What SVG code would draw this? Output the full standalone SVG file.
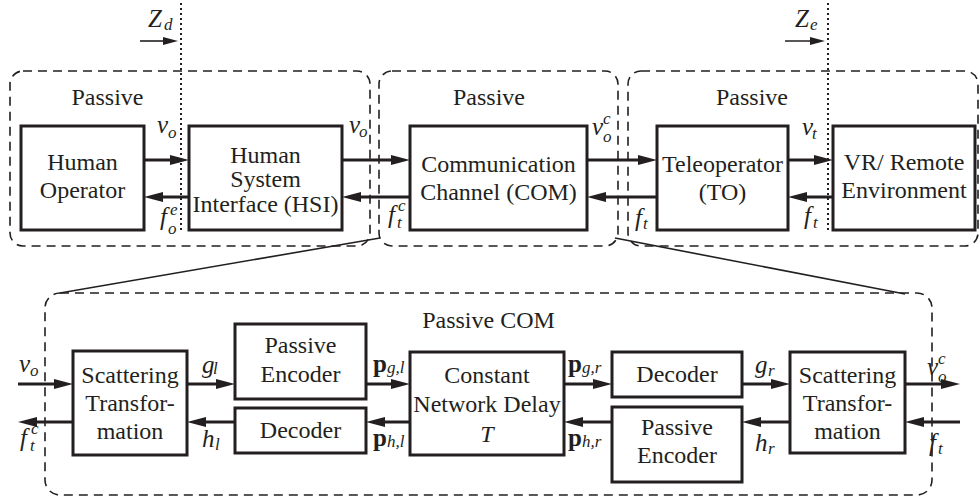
<svg xmlns="http://www.w3.org/2000/svg" width="980" height="502" viewBox="0 0 980 502">
<defs>
<marker id="ah" markerUnits="userSpaceOnUse" markerWidth="20" markerHeight="12" viewBox="0 0 20 12" refX="11" refY="6" orient="auto">
<path d="M0,1 L19,6 L0,11 z" fill="#231f20"/>
</marker>
<marker id="ahs" markerUnits="userSpaceOnUse" markerWidth="16" markerHeight="10" viewBox="0 0 16 10" refX="9" refY="5" orient="auto">
<path d="M0,1 L15,5 L0,9 z" fill="#231f20"/>
</marker>
</defs>
<rect x="0" y="0" width="980" height="502" fill="#fff"/>

<g id="regions">
<g fill="none" stroke="#231f20" stroke-width="1.6" stroke-dasharray="9 6">
<rect x="10" y="71" width="360" height="175" rx="13"/>
<rect x="379" y="71" width="239" height="175" rx="13"/>
<rect x="628" y="71" width="350" height="175" rx="13"/>
<rect x="45" y="293" width="887" height="202" rx="15"/>
</g>
<text font-family="Liberation Serif" font-size="24" text-anchor="middle" fill="#231f20" x="107.5" y="105">Passive</text>
<text font-family="Liberation Serif" font-size="24" text-anchor="middle" fill="#231f20" x="489" y="105">Passive</text>
<text font-family="Liberation Serif" font-size="24" text-anchor="middle" fill="#231f20" x="752" y="105">Passive</text>
<text font-family="Liberation Serif" font-size="24" text-anchor="middle" fill="#231f20" x="488.5" y="328">Passive COM</text>
</g>

<g id="ports">
<line x1="181" y1="3" x2="181" y2="232" fill="none" stroke="#231f20" stroke-width="2" stroke-dasharray="2 3"/>
<line x1="828" y1="3" x2="828" y2="232" fill="none" stroke="#231f20" stroke-width="2" stroke-dasharray="2 3"/>
<line x1="140" y1="41" x2="172" y2="41" stroke="#231f20" stroke-width="1.6" marker-end="url(#ahs)"/>
<line x1="785" y1="41" x2="819" y2="41" stroke="#231f20" stroke-width="1.6" marker-end="url(#ahs)"/>
<text font-family="Liberation Serif" font-size="25" font-style="italic" fill="#231f20" x="148" y="27">Z<tspan font-family="Liberation Serif" font-size="17" x="164" y="30">d</tspan></text>
<text font-family="Liberation Serif" font-size="25" font-style="italic" fill="#231f20" x="795" y="27">Z<tspan font-family="Liberation Serif" font-size="17" x="810" y="30">e</tspan></text>
</g>

<g id="connectors" fill="none" stroke="#231f20">
<line x1="380" y1="238" x2="60" y2="293" stroke-width="1.6"/>
<line x1="615" y1="238" x2="905" y2="294" stroke-width="1.6"/>
<g stroke-width="3" marker-end="url(#ah)">
<line x1="144" y1="160" x2="181" y2="160" marker-end="url(#ah)"/>
<line x1="189" y1="197" x2="152" y2="197" marker-end="url(#ah)"/>
<line x1="342" y1="160" x2="402" y2="160" marker-end="url(#ah)"/>
<line x1="410" y1="197" x2="350" y2="197" marker-end="url(#ah)"/>
<line x1="587" y1="160" x2="649" y2="160" marker-end="url(#ah)"/>
<line x1="657" y1="197" x2="595" y2="197" marker-end="url(#ah)"/>
<line x1="788" y1="160" x2="825" y2="160" marker-end="url(#ah)"/>
<line x1="833" y1="197" x2="796" y2="197" marker-end="url(#ah)"/>
<line x1="18" y1="384" x2="65" y2="384" marker-end="url(#ah)"/>
<line x1="73" y1="422" x2="26" y2="422" marker-end="url(#ah)"/>
<line x1="187" y1="384" x2="227" y2="384" marker-end="url(#ah)"/>
<line x1="235" y1="422" x2="195" y2="422" marker-end="url(#ah)"/>
<line x1="366" y1="384" x2="402" y2="384" marker-end="url(#ah)"/>
<line x1="410" y1="422" x2="374" y2="422" marker-end="url(#ah)"/>
<line x1="564" y1="384" x2="604" y2="384" marker-end="url(#ah)"/>
<line x1="612" y1="422" x2="572" y2="422" marker-end="url(#ah)"/>
<line x1="742" y1="384" x2="782" y2="384" marker-end="url(#ah)"/>
<line x1="790" y1="422" x2="750" y2="422" marker-end="url(#ah)"/>
<line x1="905" y1="384" x2="952" y2="384" marker-end="url(#ah)"/>
<line x1="960" y1="422" x2="913" y2="422" marker-end="url(#ah)"/>
</g>
</g>

<g id="labels" fill="#231f20">
<text font-family="Liberation Serif" font-size="25" font-style="italic" x="157" y="133">v<tspan font-family="Liberation Serif" font-size="17" x="168" y="138">o</tspan></text>
<text font-family="Liberation Serif" font-size="25" font-style="italic" x="160" y="225">f<tspan font-family="Liberation Serif" font-size="17" x="170" y="215">e</tspan><tspan font-family="Liberation Serif" font-size="17" x="168" y="234">o</tspan></text>
<text font-family="Liberation Serif" font-size="25" font-style="italic" x="349" y="133">v<tspan font-family="Liberation Serif" font-size="17" x="359" y="137">o</tspan></text>
<text font-family="Liberation Serif" font-size="25" font-style="italic" x="388" y="223">f<tspan font-family="Liberation Serif" font-size="17" x="398" y="211">c</tspan><tspan font-family="Liberation Serif" font-size="17" x="397" y="228">t</tspan></text>
<text font-family="Liberation Serif" font-size="25" font-style="italic" x="592" y="135">v<tspan font-family="Liberation Serif" font-size="17" x="603" y="124">c</tspan><tspan font-family="Liberation Serif" font-size="17" x="603" y="142">o</tspan></text>
<text font-family="Liberation Serif" font-size="25" font-style="italic" x="635" y="226">f<tspan font-family="Liberation Serif" font-size="17" x="643" y="229">t</tspan></text>
<text font-family="Liberation Serif" font-size="25" font-style="italic" x="802" y="135">v<tspan font-family="Liberation Serif" font-size="17" x="812" y="139">t</tspan></text>
<text font-family="Liberation Serif" font-size="25" font-style="italic" x="804" y="224">f<tspan font-family="Liberation Serif" font-size="17" x="813" y="228">t</tspan></text>

<text font-family="Liberation Serif" font-size="25" font-style="italic" x="19" y="372">v<tspan font-family="Liberation Serif" font-size="17" x="30" y="376">o</tspan></text>
<text font-family="Liberation Serif" font-size="25" font-style="italic" x="20" y="446">f<tspan font-family="Liberation Serif" font-size="17" x="31" y="434">c</tspan><tspan font-family="Liberation Serif" font-size="17" x="30" y="451">t</tspan></text>
<text font-family="Liberation Serif" font-size="25" font-style="italic" x="202" y="373">g<tspan font-family="Liberation Serif" font-size="17" x="213" y="374">l</tspan></text>
<text font-family="Liberation Serif" font-size="25" font-style="italic" x="202" y="447">h<tspan font-family="Liberation Serif" font-size="17" x="215" y="450">l</tspan></text>
<text font-family="Liberation Serif" font-size="25" font-weight="bold" x="373" y="372">p<tspan font-family="Liberation Serif" font-size="17" font-weight="normal" font-style="italic" x="387" y="373">g,l</tspan></text>
<text font-family="Liberation Serif" font-size="25" font-weight="bold" x="373" y="446">p<tspan font-family="Liberation Serif" font-size="17" font-weight="normal" font-style="italic" x="387" y="447">h,l</tspan></text>
<text font-family="Liberation Serif" font-size="25" font-weight="bold" x="568" y="372">p<tspan font-family="Liberation Serif" font-size="17" font-weight="normal" font-style="italic" x="582" y="373">g,r</tspan></text>
<text font-family="Liberation Serif" font-size="25" font-weight="bold" x="568" y="446">p<tspan font-family="Liberation Serif" font-size="17" font-weight="normal" font-style="italic" x="582" y="447">h,r</tspan></text>
<text font-family="Liberation Serif" font-size="25" font-style="italic" x="755" y="373">g<tspan font-family="Liberation Serif" font-size="17" x="768" y="376">r</tspan></text>
<text font-family="Liberation Serif" font-size="25" font-style="italic" x="755" y="451">h<tspan font-family="Liberation Serif" font-size="17" x="768" y="454">r</tspan></text>
<text font-family="Liberation Serif" font-size="25" font-style="italic" x="927" y="375">v<tspan font-family="Liberation Serif" font-size="17" x="938" y="364">c</tspan><tspan font-family="Liberation Serif" font-size="17" x="938" y="382">o</tspan></text>
<text font-family="Liberation Serif" font-size="25" font-style="italic" x="929" y="451">f<tspan font-family="Liberation Serif" font-size="17" x="938" y="454">t</tspan></text>
</g>

<g id="human-operator">
<rect x="21" y="126" width="123" height="104" fill="#fff" stroke="#231f20" stroke-width="3"/>
<text font-family="Liberation Serif" font-size="24" text-anchor="middle" fill="#231f20" x="82.5" y="170">Human</text>
<text font-family="Liberation Serif" font-size="24" text-anchor="middle" fill="#231f20" x="82.5" y="198">Operator</text>
</g>
<g id="hsi">
<rect x="189" y="126" width="153" height="104" fill="#fff" stroke="#231f20" stroke-width="3"/>
<text font-family="Liberation Serif" font-size="24" text-anchor="middle" fill="#231f20" x="265.5" y="163">Human</text>
<text font-family="Liberation Serif" font-size="24" text-anchor="middle" fill="#231f20" x="265.5" y="187">System</text>
<text font-family="Liberation Serif" font-size="24" text-anchor="middle" fill="#231f20" x="265.5" y="212">Interface (HSI)</text>
</g>
<g id="com">
<rect x="410" y="126" width="177" height="104" fill="#fff" stroke="#231f20" stroke-width="3"/>
<text font-family="Liberation Serif" font-size="24" text-anchor="middle" fill="#231f20" x="498.5" y="172">Communication</text>
<text font-family="Liberation Serif" font-size="24" text-anchor="middle" fill="#231f20" x="498.5" y="200">Channel (COM)</text>
</g>
<g id="teleoperator">
<rect x="657" y="126" width="131" height="104" fill="#fff" stroke="#231f20" stroke-width="3"/>
<text font-family="Liberation Serif" font-size="24" text-anchor="middle" fill="#231f20" x="722.5" y="172">Teleoperator</text>
<text font-family="Liberation Serif" font-size="24" text-anchor="middle" fill="#231f20" x="722.5" y="200">(TO)</text>
</g>
<g id="vr-environment">
<rect x="833" y="126" width="142" height="104" fill="#fff" stroke="#231f20" stroke-width="3"/>
<text font-family="Liberation Serif" font-size="24" text-anchor="middle" fill="#231f20" x="904" y="170">VR/ Remote</text>
<text font-family="Liberation Serif" font-size="24" text-anchor="middle" fill="#231f20" x="904" y="198">Environment</text>
</g>

<g id="scattering-left">
<rect x="73" y="351" width="114" height="104" fill="#fff" stroke="#231f20" stroke-width="3"/>
<text font-family="Liberation Serif" font-size="24" text-anchor="middle" fill="#231f20" x="130" y="383">Scattering</text>
<text font-family="Liberation Serif" font-size="24" text-anchor="middle" fill="#231f20" x="130" y="411">Transfor-</text>
<text font-family="Liberation Serif" font-size="24" text-anchor="middle" fill="#231f20" x="130" y="439">mation</text>
</g>
<g id="encoder-left">
<rect x="235" y="324" width="131" height="75" fill="#fff" stroke="#231f20" stroke-width="3"/>
<text font-family="Liberation Serif" font-size="24" text-anchor="middle" fill="#231f20" x="300.5" y="353">Passive</text>
<text font-family="Liberation Serif" font-size="24" text-anchor="middle" fill="#231f20" x="300.5" y="382">Encoder</text>
</g>
<g id="decoder-left">
<rect x="235" y="408" width="131" height="45" fill="#fff" stroke="#231f20" stroke-width="3"/>
<text font-family="Liberation Serif" font-size="24" text-anchor="middle" fill="#231f20" x="300.5" y="438">Decoder</text>
</g>
<g id="network-delay">
<rect x="410" y="352" width="154" height="103" fill="#fff" stroke="#231f20" stroke-width="3"/>
<text font-family="Liberation Serif" font-size="24" text-anchor="middle" fill="#231f20" x="487" y="383">Constant</text>
<text font-family="Liberation Serif" font-size="24" text-anchor="middle" fill="#231f20" x="487" y="412">Network Delay</text>
<text font-family="Liberation Serif" font-size="24" text-anchor="middle" fill="#231f20" font-style="italic" x="487" y="442">T</text>
</g>
<g id="decoder-right">
<rect x="612" y="352" width="130" height="45" fill="#fff" stroke="#231f20" stroke-width="3"/>
<text font-family="Liberation Serif" font-size="24" text-anchor="middle" fill="#231f20" x="677" y="382">Decoder</text>
</g>
<g id="encoder-right">
<rect x="612" y="407" width="130" height="75" fill="#fff" stroke="#231f20" stroke-width="3"/>
<text font-family="Liberation Serif" font-size="24" text-anchor="middle" fill="#231f20" x="677" y="435">Passive</text>
<text font-family="Liberation Serif" font-size="24" text-anchor="middle" fill="#231f20" x="677" y="463">Encoder</text>
</g>
<g id="scattering-right">
<rect x="790" y="352" width="115" height="101" fill="#fff" stroke="#231f20" stroke-width="3"/>
<text font-family="Liberation Serif" font-size="24" text-anchor="middle" fill="#231f20" x="847.5" y="383">Scattering</text>
<text font-family="Liberation Serif" font-size="24" text-anchor="middle" fill="#231f20" x="847.5" y="411">Transfor-</text>
<text font-family="Liberation Serif" font-size="24" text-anchor="middle" fill="#231f20" x="847.5" y="439">mation</text>
</g>
</svg>
